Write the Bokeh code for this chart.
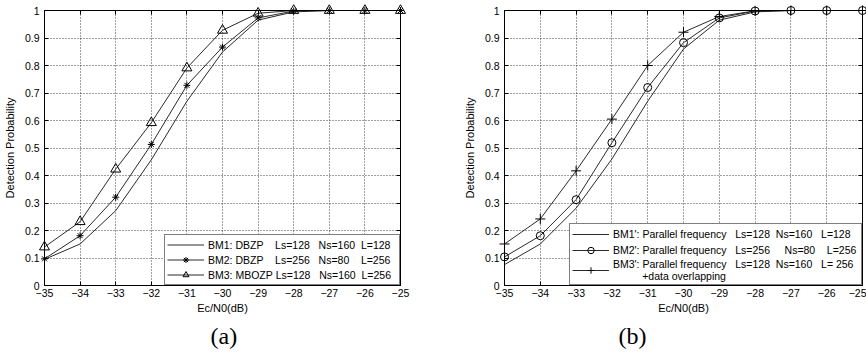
from bokeh.plotting import figure
from bokeh.layouts import row
from bokeh.models import (Range1d, FixedTicker, Legend, LegendItem, Title, LinearAxis)
from bokeh.embed import file_html
from bokeh.resources import INLINE

# ---------------- data ----------------
ec_n0 = [-35, -34, -33, -32, -31, -30, -29, -28, -27, -26, -25]

a_bm1 = [0.095, 0.151, 0.272, 0.457, 0.670, 0.849, 0.965, 0.995, 1.0, 1.0, 1.0]
a_bm2 = [0.097, 0.181, 0.321, 0.513, 0.728, 0.867, 0.973, 0.998, 1.0, 1.0, 1.0]
a_bm3 = [0.140, 0.232, 0.423, 0.592, 0.791, 0.928, 0.990, 1.0, 1.0, 1.0, 1.0]

b_bm1 = [0.076, 0.151, 0.281, 0.460, 0.670, 0.860, 0.965, 0.995, 1.0, 1.0, 1.0]
b_bm2 = [0.104, 0.181, 0.312, 0.519, 0.720, 0.883, 0.973, 0.998, 1.0, 1.0, 1.0]
b_bm3 = [0.151, 0.242, 0.417, 0.605, 0.800, 0.921, 0.978, 0.999, 1.0, 1.0, 1.0]

S = "\u00a0"  # non-breaking space keeps the column gaps of the legend
a_labels = ["BM1: DBZP" + S * 4 + "Ls=128" + S * 3 + "Ns=160" + S * 2 + "L=128",
            "BM2: DBZP" + S * 4 + "Ls=256" + S * 3 + "Ns=80" + S * 4 + "L=256",
            "BM3: MBOZP" + S + "Ls=128" + S * 3 + "Ns=160" + S * 2 + "L=256"]
b_labels = ["BM1': Parallel frequency" + S * 3 + "Ls=128" + S * 2 + "Ns=160" + S * 3 + "L=128",
            "BM2': Parallel frequency" + S * 3 + "Ls=256" + S * 5 + "Ns=80" + S * 4 + "L=256",
            "BM3': Parallel frequency" + S * 3 + "Ls=128" + S * 2 + "Ns=160" + S * 3 + "L= 256"
            + "\n" + S * 10 + "+data overlapping"]

xtick_values = [-35, -34, -33, -32, -31, -30, -29, -28, -27, -26, -25]
ytick_values = [0, 0.1, 0.2, 0.3, 0.4, 0.5, 0.6, 0.7, 0.8, 0.9, 1]
ytick_labels = ["0", "0.1", "0.2", "0.3", "0.4", "0.5", "0.6", "0.7", "0.8", "0.9", "1"]

x_title = "Ec/N0(dB)"
y_title = "Detection Probability"

FONT = "Liberation Sans"
LINE = "#2a2a2a"
H = 352


def style_axis(ax):
    ax.major_tick_in = 4
    ax.major_tick_out = 0
    ax.minor_tick_line_color = None
    ax.axis_line_color = "black"
    ax.major_tick_line_color = "black"
    ax.major_label_text_font = FONT
    ax.major_label_text_font_size = "10.5px"
    ax.major_label_text_color = "black"
    ax.axis_label_text_font = FONT
    ax.axis_label_text_font_size = "11px"
    ax.axis_label_text_font_style = "normal"
    ax.axis_label_text_color = "black"


def make_panel(width, bl, br, series, labels, caption, cap_offset,
               glyph_w, label_h, label_w):
    p = figure(width=width, height=H,
               x_range=Range1d(-35, -25), y_range=Range1d(0, 1),
               output_backend="svg", toolbar_location=None,
               min_border_left=bl, min_border_right=br,
               min_border_top=10, min_border_bottom=H - 286,
               x_axis_label=x_title, y_axis_label=y_title)
    p.background_fill_color = "white"
    p.border_fill_color = "white"
    p.outline_line_color = "black"
    p.outline_line_width = 1

    p.xaxis.ticker = FixedTicker(ticks=xtick_values)
    p.yaxis.ticker = FixedTicker(ticks=ytick_values)
    p.yaxis.major_label_overrides = {v: s for v, s in zip(ytick_values, ytick_labels)}
    for ax in (p.xaxis[0], p.yaxis[0]):
        style_axis(ax)
    p.xaxis.major_label_standoff = 3
    p.xaxis.axis_label_standoff = 2
    p.yaxis.major_label_standoff = 5
    p.yaxis.axis_label_standoff = 6

    # inward ticks on the top and right edges (box style), no labels
    top = LinearAxis(ticker=FixedTicker(ticks=xtick_values),
                     major_label_overrides={v: "" for v in xtick_values},
                     major_label_standoff=0)
    right = LinearAxis(ticker=FixedTicker(ticks=ytick_values),
                       major_label_overrides={v: "" for v in ytick_values},
                       major_label_standoff=0)
    style_axis(top)
    style_axis(right)
    p.add_layout(top, "above")
    p.add_layout(right, "right")

    for g in (p.xgrid, p.ygrid):
        g.grid_line_color = "#000000"
        g.grid_line_alpha = 0.75
        g.grid_line_dash = "1 2"
        g.grid_line_width = 1
    p.xgrid.ticker = FixedTicker(ticks=xtick_values)
    p.ygrid.ticker = FixedTicker(ticks=ytick_values)

    items = []
    for (ys, marker, size), lab in zip(series, labels):
        r = p.line(ec_n0, ys, line_color=LINE, line_width=1)
        rs = [r]
        if marker is not None:
            m = p.scatter(ec_n0, ys, marker=marker, size=size,
                          line_color="black", line_width=1,
                          fill_color=None, level="overlay")
            rs.append(m)
        items.append(LegendItem(label=lab, renderers=rs))

    leg = Legend(items=items, location="bottom_right", margin=0,
                 padding=2, spacing=0, glyph_width=glyph_w,
                 glyph_height=label_h, label_height=label_h,
                 label_width=label_w, label_standoff=4,
                 label_text_font=FONT, label_text_font_size="10.5px",
                 label_text_color="black", label_text_line_height=1.25,
                 border_line_color="black", border_line_width=1,
                 background_fill_color="white", background_fill_alpha=1)
    p.add_layout(leg)

    p.add_layout(Title(text=caption, text_font="Liberation Serif",
                       text_font_size="24px", text_font_style="normal",
                       text_color="black", align="left", offset=cap_offset,
                       standoff=8), "below")
    return p


pa = make_panel(436, 42, 36,
                [(a_bm1, None, 0), (a_bm2, "asterisk", 7), (a_bm3, "triangle", 10)],
                a_labels, "(a)", 166, 37, 15, 189)
pb = make_panel(430, 68, 4,
                [(b_bm1, None, 0), (b_bm2, "circle", 8), (b_bm3, "cross", 10)],
                b_labels, "(b)", 114, 37, 16, 246)

layout = row(pa, pb)
open("out.html", "w").write(file_html(layout, INLINE))
